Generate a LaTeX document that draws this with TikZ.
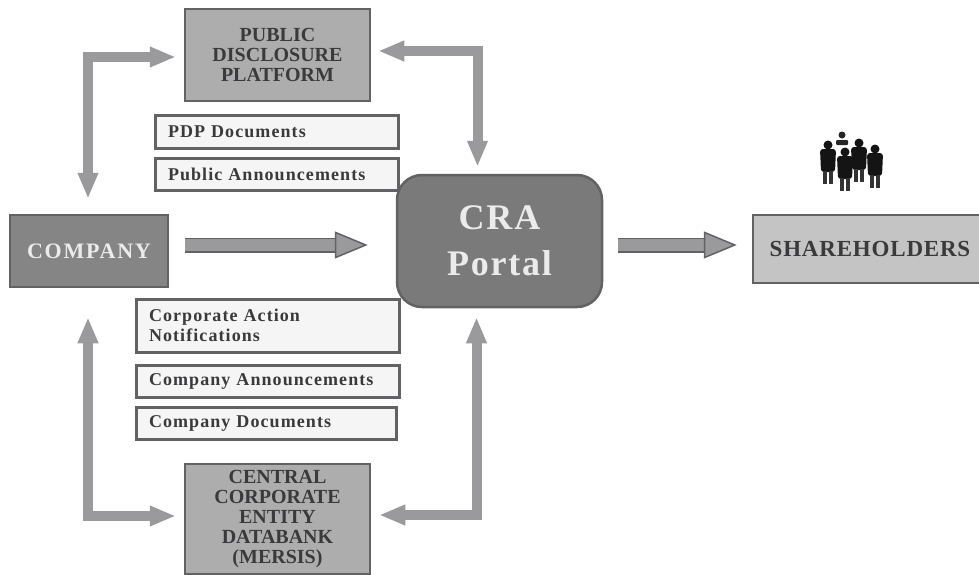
\documentclass[tikz,border=0pt]{standalone}
\usepackage{fontspec}
\setmainfont{Liberation Serif}
\newfontfamily\notefont[LetterSpace=6,WordSpace=0.6]{Liberation Serif}
\usetikzlibrary{arrows.meta}
\definecolor{edgegray}{HTML}{626264}
\definecolor{arrowgray}{HTML}{9A9A9C}
\definecolor{inktext}{HTML}{3A3A3C}
\tikzset{
	sizedbox/.style 2 args={minimum width=#1pt,minimum height=#2pt,inner sep=0pt},
	capsbox/.style={draw=edgegray,line width=2.5pt,fill=#1,text=inktext,align=center,font=\bfseries\fontsize{20}{20}\selectfont},
	notebox/.style={draw=edgegray,line width=3pt,fill=black!4,text=inktext,align=left,text width=#1pt,font=\notefont\bfseries\fontsize{18}{20}\selectfont},
	elbowarrow/.style={draw=arrowgray,line width=10pt,{Triangle[length=26pt,width=19pt]}-{Triangle[length=26pt,width=19pt]}},
	fatarrow/.style={draw=edgegray,double=arrowgray,double distance=12pt,line width=1.5pt,-{Triangle[length=33pt,width=27pt,fill=arrowgray]}}
}
\begin{document}
\begin{tikzpicture}[x=1pt,y=-1pt]
\useasboundingbox (0,0) rectangle (979,575);

\node[capsbox=black!32,sizedbox={185}{92}] (pdp) at (277.5,55) {PUBLIC\\DISCLOSURE\\PLATFORM};
\node[capsbox=black!32,sizedbox={185}{110}] (mersis) at (277.5,519) {CENTRAL\\CORPORATE\\ENTITY\\DATABANK\\(MERSIS)};
\node[capsbox=black!48,sizedbox={158}{72},text=black!8,font=\bfseries\fontsize{22}{22}\selectfont\addfontfeature{LetterSpace=8}] (company) at (89,251) {COMPANY};
\node[capsbox=black!23,sizedbox={234}{68},font=\bfseries\fontsize{23}{23}\selectfont\addfontfeature{LetterSpace=3.5}] (holders) at (870,249) {SHAREHOLDERS};
\node[capsbox=black!52,sizedbox={205}{132},rounded corners=25pt,text=black!8,font=\bfseries\fontsize{36}{46}\selectfont\addfontfeature{LetterSpace=5}] (cra) at (499.5,241) {CRA\\Portal};

\node[notebox=217,sizedbox={243}{32}] (pdpdocs) at (276.5,132) {PDP Documents};
\node[notebox=217,sizedbox={243}{32}] (publicnews) at (276.5,174) {Public Announcements};
\node[notebox=237,sizedbox={263}{53}] (actions) at (267.5,325.5) {Corporate Action\\Notifications};
\node[notebox=237,sizedbox={263}{32}] (companynews) at (267.5,381) {Company Announcements};
\node[notebox=234,sizedbox={260}{32}] (companydocs) at (266,423) {Company Documents};

\draw[elbowarrow] ([yshift=-2pt]pdp.west) ++(-8,0) -| ([xshift=-1pt,yshift=15pt]company.north);
\draw[elbowarrow] ([yshift=4pt]pdp.east) ++(7,0) -| ([xshift=-22pt,yshift=7pt]cra.north);
\draw[elbowarrow] ([yshift=3pt]mersis.west) ++(-8,0) -| ([xshift=-1pt,yshift=-29pt]company.south);
\draw[elbowarrow] ([yshift=4pt]mersis.east) ++(8,0) -| ([xshift=-23pt,yshift=-9pt]cra.south);

\draw[fatarrow,shorten <=16pt,shorten >=28pt] ([yshift=6pt]company.east) -- ([yshift=-4pt]cra.west);
\draw[fatarrow,shorten <=15pt,shorten >=15pt] ([yshift=-4pt]cra.east) -- ([yshift=4pt]holders.west);

\foreach \x/\y in {828/145,859/143,875/149,845/152}
{
	\fill[black!92] (\x,\y) circle (4.5);
	\fill[black!92,rounded corners=3pt] (\x-8,\y+4) -- (\x+8,\y+4) -- (\x+7,\y+27) -- (\x-7,\y+27) -- cycle;
	\fill[black!80] (\x-5,\y+26) rectangle (\x-1,\y+39);
	\fill[black!80] (\x+1,\y+26) rectangle (\x+5,\y+39);
}
\fill[black!85] (842,135) circle (3.5);
\fill[black!85,rounded corners=1pt] (836,140) rectangle (848,145);
\end{tikzpicture}
\end{document}
